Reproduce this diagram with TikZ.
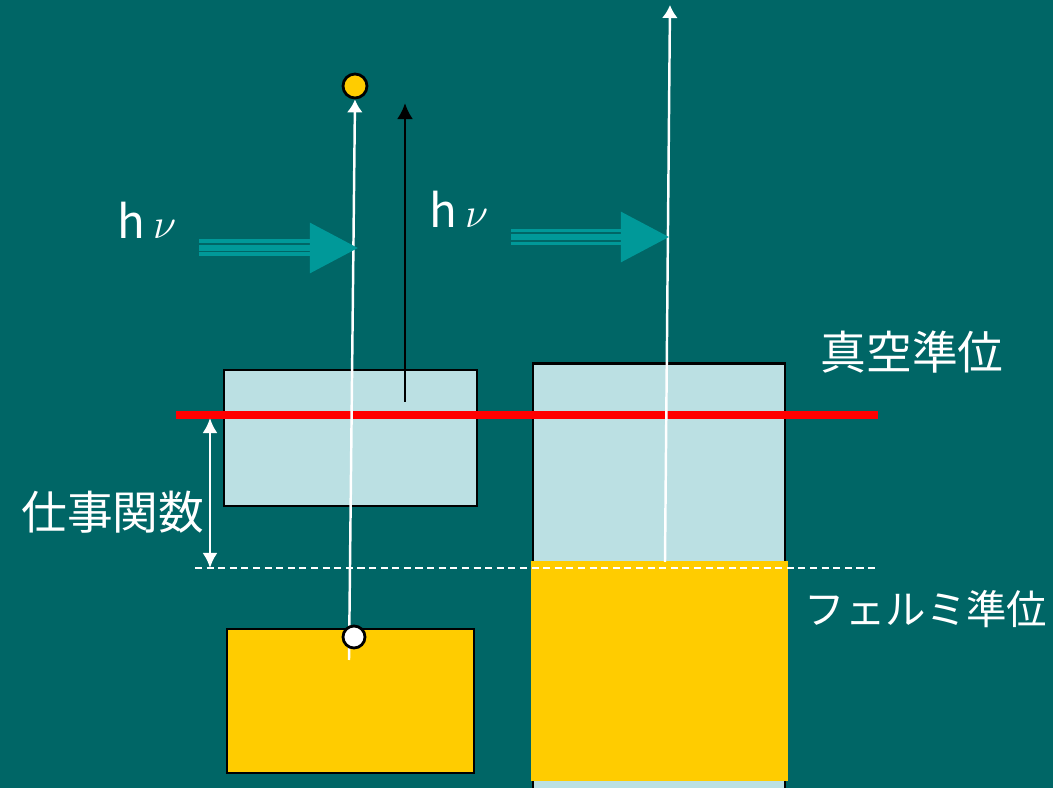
\documentclass[tikz,border=0pt]{standalone}
\usepackage{fontspec}
\newfontfamily\cjk{Noto Sans CJK JP}
\usepackage{tikz}
\usetikzlibrary{arrows.meta,positioning}
\definecolor{bgteal}{HTML}{006666}
\definecolor{photonteal}{HTML}{009999}
\definecolor{bandblue}{HTML}{BBE0E3}
\definecolor{bandyellow}{HTML}{FFCC00}

\begin{document}
\begin{tikzpicture}[
        x=0.01cm, y=-0.01cm,
        band/.style={draw, line width=0.8pt, rectangle, inner sep=0pt},
        particle/.style={draw, line width=0.8pt, circle, inner sep=0pt, minimum size=2.4mm},
        lbl/.style={text=white, font=\cjk\fontsize{13}{15}\selectfont, inner sep=0pt},
        thinray/.style={photonteal, line width=0.9pt},
        midray/.style={photonteal, line width=1.7pt, -{Triangle[length=4.8mm, width=4.9mm]}},
        >=Latex
    ]
        \useasboundingbox[fill=bgteal] (0,0) rectangle (1053,788);

        % bands
        \node[band, fill=bandblue, minimum width=2.53cm, minimum height=1.36cm] (vacl) at (350.5,438) {};
        \node[band, fill=bandblue, minimum width=2.52cm, minimum height=4.36cm] (vacr) at (659,582) {};
        \node[fill=bandyellow, inner sep=0pt, minimum width=2.57cm, minimum height=2.20cm] (metal) at (659.5,671) {};
        \node[band, fill=bandyellow, minimum width=2.47cm, minimum height=1.44cm] (occ) at (350.5,701) {};

        % levels
        \coordinate (vacL) at (176,415);
        \coordinate (vacR) at (878,415);
        \coordinate (efL) at (195,568);
        \coordinate (efR) at (875,568);
        \draw[red, line width=2.2pt] (vacL) -- (vacR);
        \draw[white, line width=0.7pt, dash pattern=on 2pt off 1.3pt] (efL) -- (efR);

        % work function
        \coordinate (wfT) at (210,418);
        \coordinate (wfB) at (210,568);
        \draw[white, line width=0.8pt, {Latex[length=1.5mm,width=1.5mm]}-{Latex[length=1.5mm,width=1.5mm]}] (wfT) -- (wfB);
        \node[lbl, anchor=east] (wf) at (205,512) {仕事関数};

        % electron emission
        \node[particle, fill=bandyellow] (eout) at (355,86) {};
        \coordinate (estart) at (349,660);
        \draw[white, line width=0.7pt, -{Latex[length=1.3mm,width=1.6mm]}] (estart) -- (eout.south);
        \node[particle, fill=white, minimum size=2.2mm] (ein) at (354,637) {};

        \coordinate (exB) at (405,402);
        \coordinate (exT) at (405,103);
        \draw[black, line width=0.8pt, -{Latex[length=1.6mm,width=1.6mm]}] (exB) -- (exT);

        \coordinate (efup) at (665,562);
        \coordinate (top) at (670,5);
        \draw[white, line width=0.7pt, -{Latex[length=1.3mm,width=1.6mm]}] (efup) -- (top);

        % photons
        \coordinate (phAs) at (199,248);
        \coordinate (phAe) at (358,248);
        \draw[thinray] (199,241) -- (310,241);
        \draw[thinray] (199,254) -- (310,254);
        \draw[midray] (phAs) -- (phAe);
        \coordinate (phBs) at (511,237);
        \coordinate (phBe) at (669,237);
        \draw[thinray] (511,230.5) -- (623,230.5);
        \draw[thinray] (511,243.5) -- (623,243.5);
        \draw[midray] (phBs) -- (phBe);

        \node[lbl] (hnuA) at (147,220) {h\,$\nu$};
        \node[lbl] (hnuB) at (459,209) {h\,$\nu$};

        % level labels
        \node[lbl, anchor=west] (vaclbl) at (820,352) {真空準位};
        \node[lbl, anchor=west, font=\cjk\fontsize{11.5}{14}\selectfont] (eflbl) at (804,609) {フェルミ準位};
    \end{tikzpicture}
\end{document}
